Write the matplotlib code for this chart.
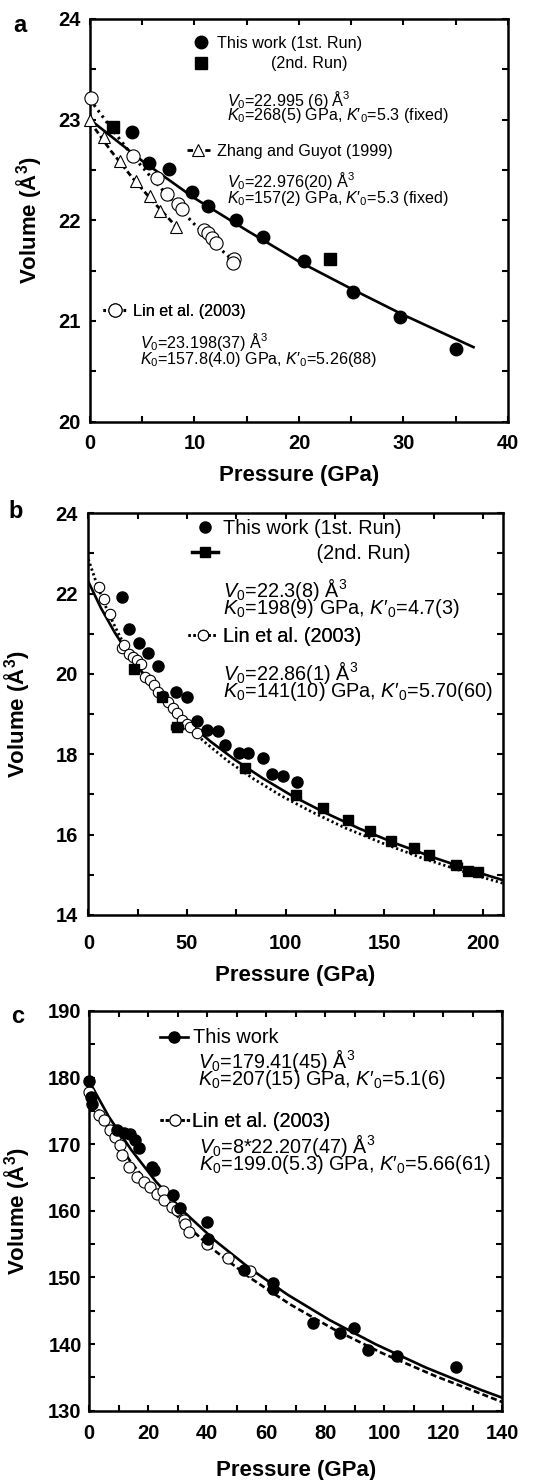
import numpy as np
import matplotlib.pyplot as plt
from matplotlib.lines import Line2D
from matplotlib.ticker import MultipleLocator

plt.rcParams['font.family'] = ['Liberation Sans', 'DejaVu Sans']
plt.rcParams['mathtext.fontset'] = 'custom'
plt.rcParams['mathtext.rm'] = 'Liberation Sans'
plt.rcParams['mathtext.it'] = 'Liberation Sans:italic'
plt.rcParams['mathtext.bf'] = 'Liberation Sans:bold'

# ---------------- panel a ----------------
a_run1_p = [4.0, 5.6, 7.6, 9.8, 11.3, 14.0, 16.6, 20.5, 25.2, 29.7, 35.0]
a_run1_v = [22.88, 22.57, 22.51, 22.28, 22.14, 22.00, 21.83, 21.60, 21.29, 21.04, 20.72]
a_run2_p = [2.2, 23.0]
a_run2_v = [22.93, 21.62]
a_zhang_p = [0.0, 1.3, 2.9, 4.4, 5.7, 6.7, 8.2]
a_zhang_v = [23.00, 22.83, 22.59, 22.39, 22.24, 22.09, 21.93]
a_lin_p = [0.1, 4.1, 6.4, 7.4, 8.4, 8.8, 10.9, 11.3, 11.7, 12.1, 13.8, 13.7]
a_lin_v = [23.21, 22.64, 22.42, 22.26, 22.16, 22.11, 21.90, 21.87, 21.82, 21.77, 21.62, 21.58]
a_fit_p = [0, 5, 10, 15, 20, 25, 30, 36.7]
a_fit_v = [23.00, 22.59, 22.22, 21.90, 21.59, 21.32, 21.06, 20.74]
a_zfit_p = [0, 2, 4, 6, 8.5]
a_zfit_v = [22.98, 22.69, 22.43, 22.19, 21.91]
a_lfit_p = [0, 2, 4, 6, 8, 10, 12, 14]
a_lfit_v = [23.20, 22.92, 22.65, 22.41, 22.18, 21.96, 21.76, 21.57]

# ---------------- panel b ----------------
b_run1_p = [16.9, 20.8, 25.9, 30.1, 35.5, 44.3, 49.9, 55.0, 60.0, 65.9, 69.3, 76.4, 81.1,
            88.7, 93.0, 98.6, 106.0]
b_run1_v = [21.91, 21.12, 20.76, 20.51, 20.20, 19.55, 19.42, 18.84, 18.61, 18.59, 18.23,
            18.03, 18.03, 17.90, 17.51, 17.47, 17.32]
b_run2_p = [23.3, 37.5, 44.8, 79.5, 105.5, 119.0, 131.5, 143.0, 153.5, 165.0, 172.5, 186.5,
            192.5, 197.5]
b_run2_v = [20.12, 19.42, 18.69, 17.65, 16.99, 16.66, 16.36, 16.10, 15.84, 15.66, 15.49,
            15.24, 15.10, 15.08]
b_run2_perr = [0, 0, 3, 0, 0, 0, 0, 0, 0, 0, 0, 3, 0, 0]
b_lin_p = [5.3, 8.0, 10.8, 16.9, 18.0, 20.5, 22.5, 24.5, 26.5, 28.8, 31.5, 33.5, 35.5,
           38.0, 40.6, 43.0, 44.8, 47.4, 50.0, 51.6, 55.0]
b_lin_v = [22.17, 21.86, 21.50, 20.64, 20.72, 20.50, 20.43, 20.35, 20.25, 19.93, 19.85,
           19.73, 19.55, 19.45, 19.30, 19.15, 19.02, 18.85, 18.75, 18.69, 18.52]
b_fit_p = [0, 6.3, 13.4, 21.3, 30.0, 39.7, 50.3, 61.9, 74.7, 88.5, 103.5, 119.8, 137.4,
           156.4, 176.8, 198.7, 210]
b_fit_v = [22.30, 21.65, 21.03, 20.43, 19.87, 19.33, 18.81, 18.32, 17.85, 17.40, 16.96,
           16.55, 16.15, 15.77, 15.40, 15.04, 14.87]
b_lfit_p = [0, 4.6, 9.8, 15.8, 22.6, 30.3, 38.9, 48.4, 59.1, 70.8, 83.7, 98.0, 113.5,
            130.5, 149.0, 169.0, 190.8, 210]
b_lfit_v = [22.86, 22.19, 21.56, 20.95, 20.37, 19.82, 19.29, 18.78, 18.30, 17.83, 17.39,
            16.96, 16.56, 16.16, 15.79, 15.42, 15.07, 14.79]

# ---------------- panel c ----------------
c_this_p = [0.0, 0.5, 1.0, 9.4, 11.7, 13.9, 15.6, 16.8, 21.3, 21.8, 28.3, 30.8, 40.0, 40.3,
            52.5, 62.4, 62.4, 75.9, 85.0, 89.7, 94.6, 104.2, 124.3]
c_this_v = [179.5, 177.1, 176.1, 172.1, 171.7, 171.5, 170.6, 169.5, 166.6, 166.2, 162.4,
            160.5, 158.3, 155.8, 151.1, 149.2, 148.2, 143.1, 141.6, 142.4, 139.1, 138.2, 136.6]
c_lin_p = [0.0, 3.2, 4.9, 7.1, 8.8, 10.3, 11.1, 13.4, 16.2, 18.4, 20.5, 22.9, 25.0, 25.4,
           28.0, 29.7, 32.0, 32.4, 33.9, 40.0, 47.1, 54.5]
c_lin_v = [177.9, 174.4, 173.6, 172.1, 171.1, 169.9, 168.4, 166.6, 165.1, 164.4, 163.6,
           162.6, 163.0, 161.6, 160.6, 160.1, 158.6, 158.1, 156.9, 155.1, 152.9, 150.9]
c_fit_p = [0, 6.6, 14.2, 22.6, 32.1, 42.7, 54.4, 67.3, 81.5, 97.1, 114.1, 132.7, 140]
c_fit_v = [179.41, 174.15, 169.17, 164.39, 159.85, 155.51, 151.37, 147.40, 143.60, 139.97,
           136.48, 133.14, 131.95]
c_lfit_p = [0, 6.4, 13.8, 22.3, 31.8, 42.6, 54.7, 68.1, 83.0, 99.5, 117.6, 127.4, 140]
c_lfit_v = [177.66, 172.45, 167.51, 162.79, 158.29, 154.00, 149.89, 145.96, 142.20, 138.60,
            135.15, 133.48, 131.30]


def style_axes(ax, xlim, ylim, xmaj, xmin, ymaj, ymin, xpad, ypad):
    ax.set_xlim(*xlim)
    ax.set_ylim(*ylim)
    xt = np.arange(xlim[0], xlim[1] + 0.01, xmaj)
    yt = np.arange(ylim[0], ylim[1] + 0.01, ymaj)
    ax.set_xticks(xt)
    ax.set_xticklabels(["%g" % t for t in xt], fontweight='bold')
    ax.set_yticks(yt)
    ax.set_yticklabels(["%g" % t for t in yt], fontweight='bold')
    ax.xaxis.set_minor_locator(MultipleLocator(xmin))
    ax.yaxis.set_minor_locator(MultipleLocator(ymin))
    ax.tick_params(which='both', direction='in', top=True, right=True,
                   length=4.5, width=1.5, labelsize=14.5)
    ax.tick_params(axis='x', pad=xpad)
    ax.tick_params(axis='y', pad=ypad)
    for s in ax.spines.values():
        s.set_linewidth(1.8)


def add_key(ax, handles, labels, x, y, fs, hl, htp, ls=0.3):
    leg = ax.legend(handles, labels, loc='upper left', bbox_to_anchor=(x, y),
                    frameon=False, fontsize=fs, handlelength=hl, handletextpad=htp,
                    labelspacing=ls, borderpad=0, borderaxespad=0, numpoints=1)
    ax.add_artist(leg)


def add_lines(ax, x, y, l1, l2, fs, lsp):
    # two parameter lines as one text block
    ax.text(x, y, l1 + "\n" + l2, transform=ax.transAxes, fontsize=fs,
            va='center', ha='left', linespacing=lsp)


fig = plt.figure(figsize=(5.34, 14.8), dpi=100)
ylabel = r"Volume (Å$^{\mathbf{3}}$)"
xlabel = "Pressure (GPa)"
V0 = r"$V_{\mathrm{0}}$"
K0 = r"$K_{\mathrm{0}}$"
Kp = r"$K$′$_{\mathrm{0}}$"

# ---- a ----
ax = fig.add_axes([0.1685, 0.7151, 0.7828, 0.2721])
ax.plot(a_fit_p, a_fit_v, color='black', lw=1.9)
ax.plot(a_zfit_p, a_zfit_v, color='black', lw=2.0, ls=(0, (2, 1.2)))
ax.plot(a_lfit_p, a_lfit_v, color='black', lw=2.2, ls=(0, (0.8, 1.4)))
ax.plot(a_zhang_p, a_zhang_v, ls='none', marker='^', ms=8, mfc='white', mec='black',
        mew=0.8, clip_on=False, zorder=4)
ax.plot(a_lin_p, a_lin_v, ls='none', marker='o', ms=9.5, mfc='white', mec='black',
        mew=0.8, clip_on=False, zorder=4)
ax.plot(a_run1_p, a_run1_v, ls='none', marker='o', ms=9, color='black', zorder=5)
ax.plot(a_run2_p, a_run2_v, ls='none', marker='s', ms=8, color='black', zorder=5)
style_axes(ax, (0, 40), (20, 24), 10, 5, 1, 0.5, 9, 7)
ax.set_xlabel(xlabel, fontsize=16, fontweight='bold')
ax.set_ylabel(ylabel, fontsize=16, fontweight='bold')
ax.xaxis.set_label_coords(0.5, -0.1075)
ax.yaxis.set_label_coords(-0.11, 0.5)

fs_a = 11.6
add_key(ax, [Line2D([], [], ls='none', marker='o', ms=9, color='black'),
             Line2D([], [], ls='none', marker='s', ms=8, color='black')],
        ["This work (1st. Run)", "            (2nd. Run)"],
        0.2455, 0.958, fs_a, 1.0, 0.5, 0.34)
add_lines(ax, 0.327, 0.7815, V0 + "=22.995 (6) Å$^{3}$",
          K0 + "=268(5) GPa, " + Kp + "=5.3 (fixed)", fs_a, 0.68)
add_key(ax, [Line2D([], [], color='black', lw=2.0, ls=(0, (2, 1.2)), marker='^', ms=8,
                    mfc='white', mec='black', mew=0.8)],
        ["Zhang and Guyot (1999)"], 0.232, 0.690, fs_a, 1.43, 0.42)
add_lines(ax, 0.327, 0.5779, V0 + "=22.976(20) Å$^{3}$",
          K0 + "=157(2) GPa, " + Kp + "=5.3 (fixed)", fs_a, 0.75)
add_key(ax, [Line2D([], [], color='black', lw=2.2, ls=(0, (0.8, 1.4)), marker='o', ms=9.5,
                    mfc='white', mec='black', mew=0.8)],
        ["Lin et al. (2003)"], 0.031, 0.292, fs_a, 1.55, 0.31)
add_lines(ax, 0.1196, 0.1783, V0 + "=23.198(37) Å$^{3}$",
          K0 + "=157.8(4.0) GPa, " + Kp + "=5.26(88)", fs_a, 0.75)
fig.text(20 / 534, 1 - 25 / 1480, "a", fontsize=17, fontweight='bold', ha='center', va='center')

# ---- b ----
ax = fig.add_axes([0.1654, 0.3818, 0.7757, 0.2714])
ax.plot(b_fit_p, b_fit_v, color='black', lw=1.9)
ax.plot(b_lfit_p, b_lfit_v, color='black', lw=2.0, ls=(0, (0.8, 1.0)))
ax.plot(b_lin_p, b_lin_v, ls='none', marker='o', ms=7.5, mfc='white', mec='black',
        mew=0.8, zorder=4)
ax.plot(b_run1_p, b_run1_v, ls='none', marker='o', ms=8, color='black', zorder=5)
ax.errorbar(b_run2_p, b_run2_v, xerr=b_run2_perr, ls='none', marker='s', ms=7.5,
            color='black', elinewidth=1.5, capsize=2.5, zorder=5)
style_axes(ax, (0, 210), (14, 24), 50, 25, 2, 1, 13.7, 7.4)
ax.set_xlabel(xlabel, fontsize=16, fontweight='bold')
ax.set_ylabel(ylabel, fontsize=16, fontweight='bold')
ax.xaxis.set_label_coords(0.5, -0.1245)
ax.yaxis.set_label_coords(-0.137, 0.5)

fs_b = 14.3
add_key(ax, [Line2D([], [], ls='none', marker='o', ms=8, color='black'),
             Line2D([], [], color='black', lw=2.5, marker='s', ms=7.5)],
        ["This work (1st. Run)", "                 (2nd. Run)"],
        0.2496, 0.9846, fs_b, 1.34, 0.25, 0.3)
add_lines(ax, 0.326, 0.7891, V0 + "=22.3(8) Å$^{3}$",
          K0 + "=198(9) GPa, " + Kp + "=4.7(3)", fs_b, 0.62)
add_key(ax, [Line2D([], [], color='black', lw=2.0, ls=(0, (0.8, 1.0)), marker='o', ms=7.5,
                    mfc='white', mec='black', mew=0.8)],
        ["Lin et al. (2003)"], 0.2407, 0.716, fs_b, 1.46, 0.32)
add_lines(ax, 0.326, 0.5825, V0 + "=22.86(1) Å$^{3}$",
          K0 + "=141(10) GPa, " + Kp + "=5.70(60)", fs_b, 0.62)
fig.text(16 / 534, 1 - 511.7 / 1480, "b", fontsize=17, fontweight='bold', ha='center', va='center')

# ---- c ----
ax = fig.add_axes([0.1672, 0.0468, 0.7734, 0.2701])
ax.plot(c_fit_p, c_fit_v, color='black', lw=1.9)
ax.plot(c_lfit_p, c_lfit_v, color='black', lw=1.9, ls=(0, (2.3, 1.2)))
ax.plot(c_lin_p, c_lin_v, ls='none', marker='o', ms=8, mfc='white', mec='black',
        mew=0.8, clip_on=False, zorder=4)
ax.plot(c_this_p, c_this_v, ls='none', marker='o', ms=8, color='black', clip_on=False, zorder=5)
style_axes(ax, (0, 140), (130, 190), 20, 10, 10, 5, 9.6, 5.5)
ax.set_xlabel(xlabel, fontsize=16, fontweight='bold')
ax.set_ylabel(ylabel, fontsize=16, fontweight='bold')
ax.xaxis.set_label_coords(0.5, -0.123)
ax.yaxis.set_label_coords(-0.139, 0.5)

fs_c = 14.3
add_key(ax, [Line2D([], [], color='black', lw=1.9, marker='o', ms=8)],
        ["This work"], 0.1712, 0.9562, fs_c, 1.41, 0.27)
add_lines(ax, 0.2639, 0.8544, V0 + "=179.41(45) Å$^{3}$",
          K0 + "=207(15) GPa, " + Kp + "=5.1(6)", fs_c, 0.62)
add_key(ax, [Line2D([], [], color='black', lw=1.9, ls=(0, (1.2, 0.8)), marker='o', ms=8,
                    mfc='white', mec='black', mew=0.8)],
        ["Lin et al. (2003)"], 0.1712, 0.7478, fs_c, 1.5, 0.12)
add_lines(ax, 0.2656, 0.6417, V0 + "=8*22.207(47) Å$^{3}$",
          K0 + "=199.0(5.3) GPa, " + Kp + "=5.66(61)", fs_c, 0.62)
fig.text(17.5 / 534, 1 - 1016.7 / 1480, "c", fontsize=17, fontweight='bold', ha='center', va='center')

fig.savefig("out.png", dpi=100)
